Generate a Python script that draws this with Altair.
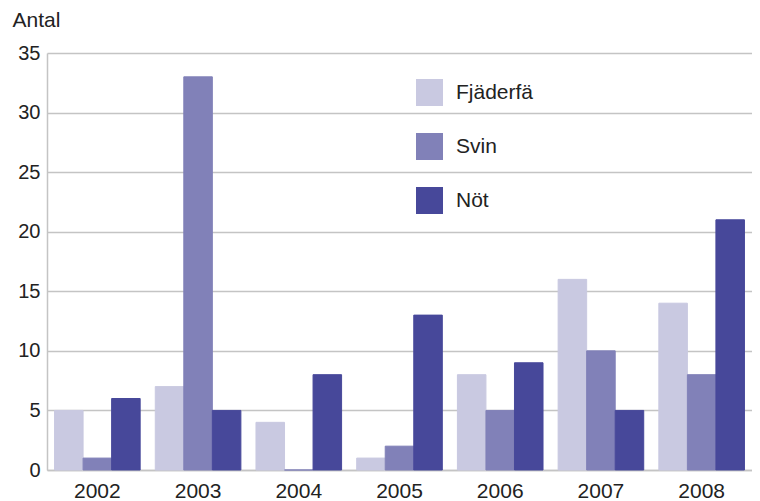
import altair as alt
import pandas as pd

years = ["2002", "2003", "2004", "2005", "2006", "2007", "2008"]
series = ["Fjäderfä", "Svin", "Nöt"]
fjaderfa = [5, 7, 4, 1, 8, 16, 14]
svin = [1, 33, 0, 2, 5, 10, 8]
not_ = [6, 5, 8, 13, 9, 5, 21]
colors = ["#c9c9e1", "#8181b8", "#47489a"]

rows = []
for name, vals in zip(series, [fjaderfa, svin, not_]):
    for y, v in zip(years, vals):
        rows.append({"År": y, "Art": name, "Antal": v})
df = pd.DataFrame(rows)

FONT = "Liberation Sans"
GRID = "#c4c4c4"
TXT = "#222222"
scale = alt.Scale(domain=series, range=colors)

chart = alt.Chart(df).mark_bar(strokeWidth=1).encode(
    x=alt.X("År:N", sort=years,
            scale=alt.Scale(paddingInner=0.15, paddingOuter=0.075),
            axis=alt.Axis(title=None, labelAngle=0, ticks=False, labelPadding=10,
                          labelFontSize=21, labelFont=FONT, labelColor=TXT,
                          domainColor=GRID, domainWidth=1.5, grid=False)),
    xOffset=alt.XOffset("Art:N", sort=series),
    y=alt.Y("Antal:Q", scale=alt.Scale(domain=[0, 35], nice=False),
            axis=alt.Axis(values=[0, 5, 10, 15, 20, 25, 30, 35], ticks=False,
                          labelPadding=7, labelFontSize=20, labelFont=FONT,
                          labelColor=TXT, domainColor=GRID, domainWidth=1.5,
                          gridColor=GRID, gridWidth=1.5,
                          title="Antal", titleAngle=0, titleAlign="left",
                          titleBaseline="alphabetic", titleX=-35, titleY=-27,
                          titleFontSize=21, titleFontWeight="normal",
                          titleFont=FONT, titleColor=TXT)),
    color=alt.Color("Art:N", scale=scale, sort=series,
                    legend=alt.Legend(title=None, orient="none", legendX=369, legendY=26,
                                      symbolType="square", symbolSize=729,
                                      symbolStrokeWidth=0, symbolOpacity=1,
                                      labelFontSize=21, labelFont=FONT,
                                      labelColor=TXT, labelOffset=13,
                                      rowPadding=27)),
    stroke=alt.Stroke("Art:N", scale=scale, legend=None),
).properties(
    width=705, height=417,
    padding={"left": 4, "top": 1, "right": 0, "bottom": 0},
).configure_view(stroke=None)

chart.save("out.html", embed_options={"renderer": "svg", "actions": False})
